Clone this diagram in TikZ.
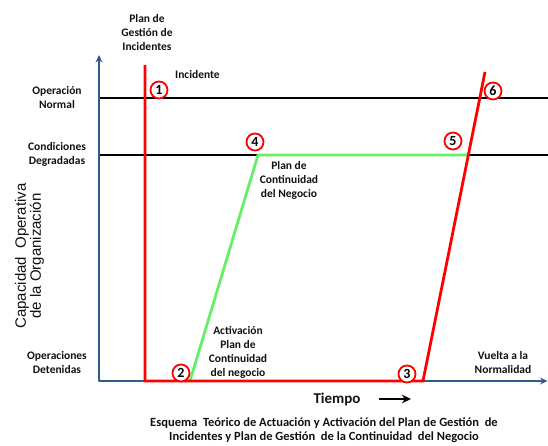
\documentclass[tikz,border=0pt]{standalone}
\usepackage{fontspec}
\setmainfont{Carlito}
\newfontfamily\axisfont{Liberation Sans}
\usepackage{tikz}
\usetikzlibrary{arrows.meta,positioning,calc}
\definecolor{axisblue}{HTML}{2F5A8E}
\definecolor{stopred}{HTML}{FF0000}
\definecolor{bcpgreen}{HTML}{66EE66}
\definecolor{ink}{HTML}{111111}
\tikzset{
    every picture/.style={line cap=round,line join=round},
    axisline/.style={draw=axisblue,line width=1.5pt},
    levelline/.style={draw=black,line width=1.7pt},
    incpath/.style={draw=stopred,line width=2.8pt,line cap=butt,line join=miter},
    bcppath/.style={draw=bcpgreen,line width=2.8pt,line cap=butt},
    stepmark/.style={circle,draw=stopred,fill=white,line width=1.8pt,
      minimum size=17pt,inner sep=0pt,text=black,
      font=\fontsize{14}{14}\selectfont\bfseries},
    tag/.style={align=center,inner sep=0pt,text=ink,
      font=\fontsize{11.5}{14}\selectfont\bfseries},
    timearrow/.style={-{Stealth[length=3.2mm,width=3mm]},draw=black,line width=2.2pt}
}

\begin{document}
\begin{tikzpicture}[x=1pt,y=-1pt,>={Stealth[length=2.6mm,width=2.4mm]}]
  \useasboundingbox (0,0) rectangle (548,446);
  \coordinate (orig) at (99,381);
  \coordinate (ytip) at (99,55);
  \coordinate (xtip) at (547.5,381);
  \coordinate (nL) at (99,98);  \coordinate (nR) at (548,98);
  \coordinate (dL) at (99,155); \coordinate (dR) at (548,155);
  \draw[levelline] (nL) -- (nR);
  \draw[levelline] (dL) -- (dR);
  \draw[axisline,<->] (ytip) -- (orig) -- (xtip);
  \coordinate (g0) at (190,381);
  \coordinate (g1) at (258,155);
  \coordinate (g2) at (468,155);
  \coordinate (i0) at (145,65);
  \coordinate (i1) at (145,381);
  \coordinate (i2) at (423,381);
  \coordinate (i3) at (485,72);
  \draw[bcppath] (g0) -- (g1) -- (g2);
  \draw[incpath] (i0) -- (i1) -- (i2) -- (i3);
  \foreach \n/\x/\y in {1/159/90,2/181/373,3/407/374,4/255/142,5/453/141,6/493/91}
    \node[stepmark] (m\n) at (\x,\y) {\n};

  \node[tag] (pgi) at (147,33) {Plan de\\Gestión de\\Incidentes};
  \node[tag,anchor=west] (incident) at (175,75) {Incidente};
  \node[tag] (normal) at (57,98) {Operación\\Normal};
  \node[tag] (degraded) at (57,154) {Condiciones\\Degradadas};
  \node[tag] (stopped) at (57,363) {Operaciones\\Detenidas};
  \node[tag] (pcn) at (289,180) {Plan de\\Continuidad\\del Negocio};
  \node[tag] (activation) at (238,352) {Activación\\Plan de\\Continuidad\\del negocio};
  \node[tag] (back) at (503,363) {Vuelta a la\\Normalidad};
  \node[rotate=90,align=center,inner sep=0pt,text=ink,
    font=\axisfont\fontsize{15}{15}\selectfont] (capacity) at (29.5,256)
    {Capacidad\ \ Operativa\\de la Organización};
  \node[tag,font=\fontsize{15}{15}\selectfont\bfseries] (time) at (337,399) {Tiempo};
  \coordinate (timeend) at (411,399);
  \draw[timearrow] ([xshift=19pt]time.east) -- (timeend);
  \node[tag,font=\fontsize{12.5}{14}\selectfont\bfseries] (caption) at (324,430)
    {Esquema\ \ Teórico de Actuación y Activación del Plan de Gestión\ \ de\\
     Incidentes y Plan de Gestión\ \ de la Continuidad\ \ del Negocio};
\end{tikzpicture}
\end{document}
